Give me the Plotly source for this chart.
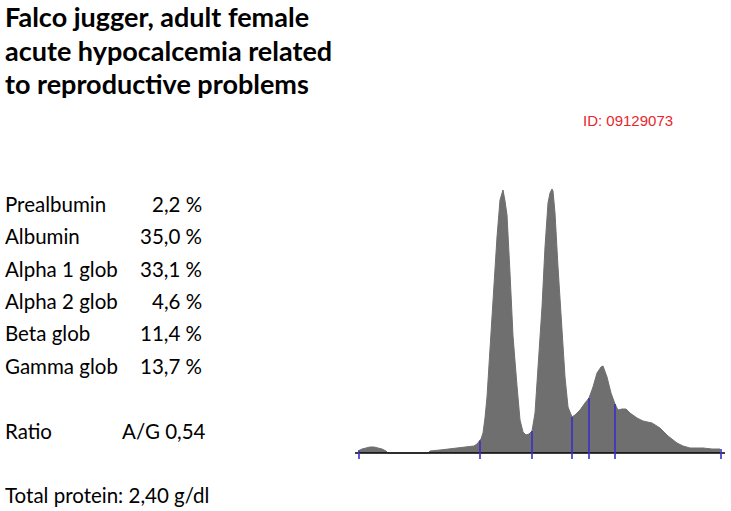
import numpy as np
import plotly.graph_objects as go

# ---- data ----
mobility = [0, 4, 8, 12, 16, 20, 24, 28, 30, 70, 72, 82, 92, 102, 110, 116, 119, 121,
            123, 125, 127, 129, 132, 135, 139, 142, 144, 145, 147, 149, 152, 155, 159,
            162, 165, 168, 171, 174, 177, 180, 184, 187, 190, 192, 194, 195, 197, 200,
            204, 207, 210, 214, 217, 222, 227, 231, 235, 239, 243, 245, 249, 253, 257,
            260, 264, 268, 272, 279, 285, 294, 302, 310, 319, 325, 332, 345, 354, 362]
density = [2, 4, 5, 6, 6, 5, 4, 2, 0, 0, 2, 3, 4, 5, 6, 7, 9, 11,
           14, 20, 35, 56, 106, 160, 216, 253, 261, 263, 252, 238, 180, 117, 67,
           33, 21, 18, 19, 22, 40, 86, 146, 206, 250, 260, 264, 262, 240, 186,
           123, 76, 46, 36, 38, 43, 50, 55, 66, 80, 86, 87, 76, 60, 49,
           43, 44, 44, 40, 35, 32, 30, 25, 17, 10, 7, 5, 5, 4, 4]
boundaries = [1, 122, 174, 214, 231, 257, 363]

fractions = ["Prealbumin", "Albumin", "Alpha 1 glob", "Alpha 2 glob", "Beta glob", "Gamma glob"]
percents = ["2,2 %", "35,0 %", "33,1 %", "4,6 %", "11,4 %", "13,7 %"]
ratio_label = "Ratio"
ratio_value = "A/G 0,54"
total_protein = "Total protein: 2,40 g/dl"
title_lines = ["Falco jugger, adult female", "acute hypocalcemia related", "to reproductive problems"]
sample_id = "ID: 09129073"

W, H = 731, 511
fig = go.Figure()

# filled densitometry trace
fig.add_trace(go.Scatter(x=mobility, y=density, mode="lines", fill="tozeroy",
                         line=dict(color="#6f6f6f", width=1), fillcolor="#6f6f6f",
                         hoverinfo="skip", showlegend=False))

# baseline
fig.add_trace(go.Scatter(x=[boundaries[0] - 4, boundaries[-1] + 4], y=[0, 0], mode="lines",
                         line=dict(color="black", width=1.5), hoverinfo="skip", showlegend=False))

# fraction dividers
bx, by = [], []
for b in boundaries:
    h = float(np.interp(b, mobility, density))
    bx += [b, b, None]
    by += [-6, h, None]
fig.add_trace(go.Scatter(x=bx, y=by, mode="lines", line=dict(color="#3a2fc8", width=1.6),
                         hoverinfo="skip", showlegend=False))

ann = []
def px(x):
    return x / W
def py(y):
    return 1 - y / H

def add(text, x, y, anchor, font):
    ann.append(dict(text=text, x=px(x), y=py(y), xref="paper", yref="paper",
                    xanchor=anchor, yanchor="middle", showarrow=False, font=font))

title_font = dict(family="Lato", size=27, color="black")
for i, t in enumerate(title_lines):
    add("<b>%s</b>" % t, 3, 17 + 33 * i, "left", title_font)

body_font = dict(family="Lato", size=20.5, color="black")
for i, (f, p) in enumerate(zip(fractions, percents)):
    yb = 212 + 32.3 * i - 8
    add(f, 3, yb, "left", body_font)
    add(p, 204, yb, "right", body_font)
add(ratio_label, 3, 439 - 8, "left", body_font)
add(ratio_value, 208, 439 - 8, "right", body_font)
add(total_protein, 3, 503 - 8, "left", body_font)
add(sample_id, 628, 121, "center",
    dict(family="Liberation Sans Narrow, Liberation Sans", size=15, color="#e8262c"))

fig.update_layout(
    width=W, height=H, margin=dict(l=0, r=0, t=0, b=0),
    paper_bgcolor="white", plot_bgcolor="white",
    xaxis=dict(range=[-358, W - 358], visible=False, fixedrange=True),
    yaxis=dict(range=[-(H - 453), 453], visible=False, fixedrange=True),
    annotations=ann, showlegend=False,
)
fig.write_html("out.html", config={"displayModeBar": False},
               post_script="document.body.style.margin='0';")
